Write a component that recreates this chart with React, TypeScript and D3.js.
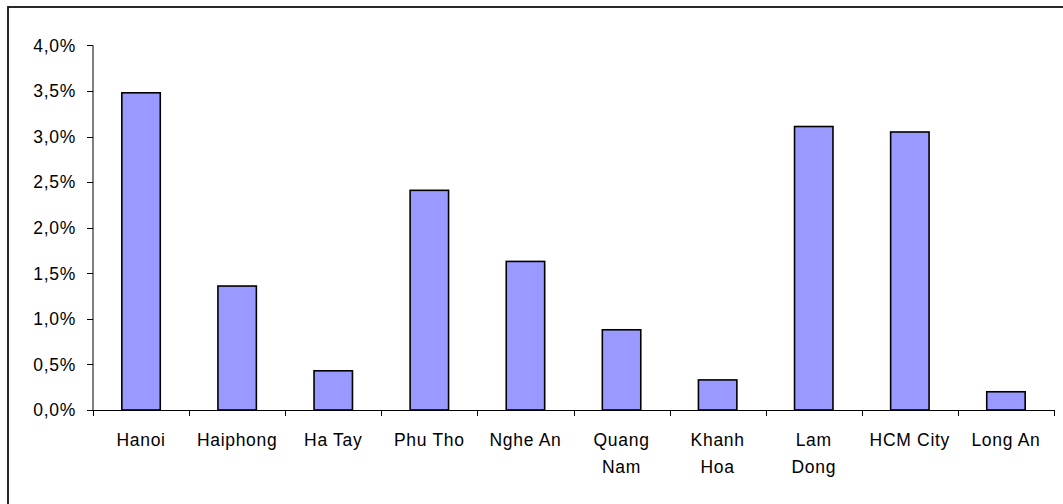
import React from "react";
import * as d3 from "d3";

const categories: string[][] = [
  ["Hanoi"],
  ["Haiphong"],
  ["Ha Tay"],
  ["Phu Tho"],
  ["Nghe An"],
  ["Quang", "Nam"],
  ["Khanh", "Hoa"],
  ["Lam", "Dong"],
  ["HCM City"],
  ["Long An"],
];
const values: number[] = [3.48, 1.36, 0.43, 2.41, 1.63, 0.88, 0.33, 3.11, 3.05, 0.2];
const yTicks: number[] = [0, 0.5, 1, 1.5, 2, 2.5, 3, 3.5, 4];

const W = 1063;
const H = 504;
const left = 93;
const right = 1054;
const top = 45.4;
const bottom = 410;

export default function App() {
  const keys = categories.map((c) => c.join(" "));
  const x = d3.scaleBand<string>().domain(keys).range([left, right]).paddingInner(0).paddingOuter(0);
  const y = d3.scaleLinear().domain([0, 4]).range([bottom, top]);
  const bw = x.bandwidth() * 0.4;
  const fmt = (v: number) => v.toFixed(1).replace(".", ",") + "%";
  const font = "'Liberation Sans', Arial, sans-serif";

  return (
    <svg
      width={W}
      height={H}
      style={{ position: "absolute", left: 0, top: 0, background: "#fff" }}
      fontFamily={font}
    >
      {/* chart area frame */}
      <rect x={8} y={7} width={1070} height={510} fill="#fff" stroke="#111" strokeWidth={1.8} />
      {/* value axis */}
      <line x1={left} x2={left} y1={top} y2={bottom} stroke="#000" strokeWidth={1} />
      {yTicks.map((t) => (
        <g key={t}>
          <line x1={left - 6} x2={left} y1={Math.round(y(t)) + 0.5} y2={Math.round(y(t)) + 0.5} stroke="#000" />
          <text x={76} y={y(t)} dy="0.36em" textAnchor="end" fontSize={17.5} letterSpacing={0.7} fill="#000">
            {fmt(t)}
          </text>
        </g>
      ))}
      {/* bars */}
      {keys.map((k, i) => {
        const cx = (x(k) as number) + x.bandwidth() / 2;
        return (
          <rect
            key={k}
            x={cx - bw / 2}
            y={y(values[i])}
            width={bw}
            height={bottom - y(values[i])}
            fill="#9999FF"
            stroke="#000"
            strokeWidth={1.6}
          />
        );
      })}
      {/* category axis */}
      <line x1={left} x2={right} y1={bottom + 0.5} y2={bottom + 0.5} stroke="#000" strokeWidth={1} />
      {[...keys.map((k) => x(k) as number), right].map((tx, i) => (
        <line key={i} x1={Math.round(tx) + 0.5} x2={Math.round(tx) + 0.5} y1={bottom} y2={bottom + 6} stroke="#000" />
      ))}
      {categories.map((lines, i) => {
        const cx = (x(keys[i]) as number) + x.bandwidth() / 2;
        return (
          <text key={i} textAnchor="middle" fontSize={17.5} letterSpacing={0.7} fill="#000">
            {lines.map((ln, j) => (
              <tspan key={j} x={cx} y={445.5 + j * 27.5}>
                {ln}
              </tspan>
            ))}
          </text>
        );
      })}
    </svg>
  );
}
